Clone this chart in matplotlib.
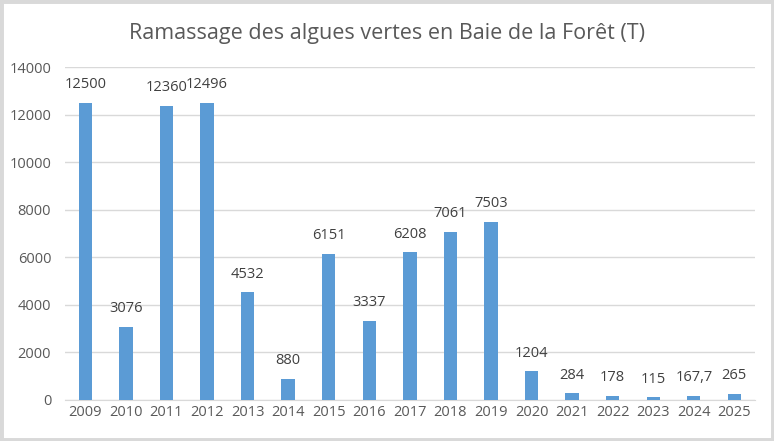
import matplotlib.pyplot as plt
from matplotlib.patches import Rectangle

# Data
years = ['2009', '2010', '2011', '2012', '2013', '2014', '2015', '2016', '2017',
         '2018', '2019', '2020', '2021', '2022', '2023', '2024', '2025']
tonnes = [12500, 3076, 12360, 12496, 4532, 880, 6151, 3337, 6208,
          7061, 7503, 1204, 284, 178, 115, 167.7, 265]
labels = ['12500', '3076', '12360', '12496', '4532', '880', '6151', '3337', '6208',
          '7061', '7503', '1204', '284', '178', '115', '167,7', '265']

plt.rcParams['font.family'] = ['Open Sans', 'DejaVu Sans']

fig = plt.figure(figsize=(7.74, 4.41), dpi=100)
ax = fig.add_axes([0.084, 0.093, 0.891, 0.755])

x = range(len(years))
bars = ax.bar(x, tonnes, width=0.33, color='#5B9BD5', zorder=3)

for xi, v, lab in zip(x, tonnes, labels):
    ax.text(xi, v + 450, lab, ha='center', va='bottom', fontsize=10.5, color='#404040')

ax.set_xlim(-0.5, len(years) - 0.5)
ax.set_ylim(0, 14000)
ax.set_yticks(range(0, 14001, 2000))
ax.set_xticks(list(x))
ax.set_xticklabels(years)
ax.tick_params(axis='both', length=0, labelsize=10.5, colors='#595959')
ax.tick_params(axis='y', pad=10)
ax.grid(axis='y', color='#D9D9D9', linewidth=1, zorder=0)
for s in ['top', 'right', 'left']:
    ax.spines[s].set_visible(False)
ax.spines['bottom'].set_color('#D9D9D9')

fig.text(0.5, 0.925, 'Ramassage des algues vertes en Baie de la Forêt (T)',
         ha='center', va='center', fontsize=15.5, color='#595959')

# light grey frame around the chart
fig.patches.append(Rectangle((0, 0), 1, 1, transform=fig.transFigure, fill=False,
                             edgecolor='#D9D9D9', linewidth=5))

fig.savefig('out.png', dpi=100)
